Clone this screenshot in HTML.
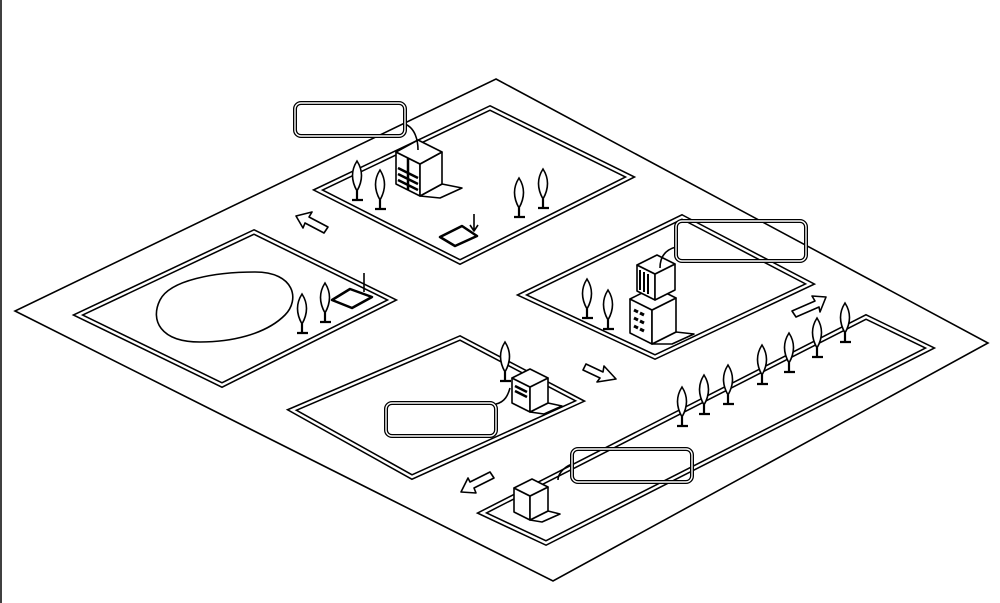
<!DOCTYPE html>
<html><head><meta charset="utf-8"><style>html,body{margin:0;padding:0;background:#fff}svg{display:block}</style></head>
<body>
<svg width="1000" height="603" viewBox="0 0 1000 603" xmlns="http://www.w3.org/2000/svg">
<defs>
<g id="tree"><path d="M0 -38 Q9 -24 0 -8 Q-9 -24 0 -38 Z" fill="#fff" stroke="#000" stroke-width="1.6"/><path d="M0 -8 V0 M-5 1 H6" stroke="#000" stroke-width="2.2" fill="none"/></g>
</defs>
<rect width="1000" height="603" fill="#fff"/>
<line x1="1" y1="0" x2="1" y2="603" stroke="#000" stroke-width="1.5"/>
<polygon points="496,79 988,343 553,581 15,311" fill="#fff" stroke="#000" stroke-width="1.6"/>
<g fill="none" stroke-linejoin="miter">
<g stroke="#000" stroke-width="5.5">
<polygon points="490,108 630,177 460,262 318,190"/>
<polygon points="254,232 392,300 222,385 78,315"/>
<polygon points="682,217 810,284 655,357 522,295"/>
<polygon points="460,338 580,401 412,477 292,410"/>
<polygon points="866,317 930,348 546,543 482,513"/>
</g>
<g stroke="#fff" stroke-width="2.4">
<polygon points="490,108 630,177 460,262 318,190"/>
<polygon points="254,232 392,300 222,385 78,315"/>
<polygon points="682,217 810,284 655,357 522,295"/>
<polygon points="460,338 580,401 412,477 292,410"/>
<polygon points="866,317 930,348 546,543 482,513"/>
</g>
</g>
<path d="M160 300 C170 280 215 272 255 272 C295 272 300 300 285 315 C265 335 230 342 200 342 C160 342 150 320 160 300 Z" fill="none" stroke="#000" stroke-width="1.6"/>
<g stroke="#000" stroke-width="1.6" fill="#fff" stroke-linejoin="round">
<polygon points="420,196 442,184 462,188 440,198"/>
<polygon points="420,196 396,184 396,152 420,164"/>
<polygon points="420,196 442,184 442,152 420,164"/>
<polygon points="420,164 396,152 418,140 442,152"/>
<path d="M398 168 L418 178 M398 174 L418 184 M398 180 L418 190 M408 158 V190" fill="none" stroke-width="2.5"/>
<polygon points="652,344 676,332 694,334 672,344"/>
<polygon points="652,344 630,333 630,299 652,310"/>
<polygon points="652,344 676,332 676,298 652,310"/>
<polygon points="652,310 630,299 654,287 676,298"/>
<polygon points="655,300 637,291 637,265 655,274"/>
<polygon points="655,300 675,290 675,264 655,274"/>
<polygon points="655,274 637,265 657,255 675,264"/>
<path d="M640 270 V290 M644 272 V292 M648 274 V294" fill="none" stroke-width="2"/>
<path d="M634 310 l4 2 M640 313 l4 2 M634 318 l4 2 M640 321 l4 2 M634 326 l4 2 M640 329 l4 2" fill="none" stroke-width="3"/>
<polygon points="530,412 548,403 562,406 544,414"/>
<polygon points="530,412 512,403 512,378 530,387"/>
<polygon points="530,412 548,403 548,378 530,387"/>
<polygon points="530,387 512,378 530,369 548,378"/>
<path d="M515 386 l12 6 M515 391 l12 6" fill="none" stroke-width="2.5"/>
<polygon points="530,520 548,511 560,514 542,522"/>
<polygon points="530,520 514,512 514,488 530,496"/>
<polygon points="530,520 548,511 548,487 530,496"/>
<polygon points="530,496 514,488 532,479 548,487"/>
<polygon points="440,237 462,226 477,236 455,246" stroke-width="2.5"/>
<path d="M474 214 V230 M470 225 L474 231 L478 225" fill="none"/>
<polygon points="332,300 350,289 372,297 352,308" stroke-width="2.5"/>
<path d="M364 273 V292" fill="none"/>
<polygon points="296,216 312,212 309,217 328,227 324,233 305,223 303,228"/>
<polygon points="826,297 812,296 815,301 792,311 796,317 819,307 820,312"/>
<polygon points="616,379 604,366 603,372 586,364 583,370 600,378 597,382"/>
<polygon points="461,492 476,493 474,488 494,478 490,472 470,482 468,478"/>
</g>
<g>
<use href="#tree" x="357" y="199"/><use href="#tree" x="380" y="208"/>
<use href="#tree" x="519" y="216"/><use href="#tree" x="543" y="207"/>
<use href="#tree" x="302" y="332"/><use href="#tree" x="325" y="321"/>
<use href="#tree" x="587" y="317"/><use href="#tree" x="608" y="328"/>
<use href="#tree" x="505" y="380"/>
<use href="#tree" x="682" y="425"/><use href="#tree" x="704" y="413"/><use href="#tree" x="728" y="403"/>
<use href="#tree" x="762" y="383"/><use href="#tree" x="789" y="371"/><use href="#tree" x="817" y="356"/><use href="#tree" x="845" y="341"/>
</g>
<g fill="none" stroke="#000" stroke-width="1.6">
<path d="M405 124 C415 128 418 140 418 150"/>
<path d="M676 247 C664 250 660 258 660 268"/>
<path d="M496 404 C505 402 508 395 510 388"/>
<path d="M572 464 C562 468 558 475 558 480"/>
</g>
<g fill="none" stroke="#000">
<rect x="295" y="103" width="110" height="33" rx="6" stroke-width="4"/>
<rect x="295" y="103" width="110" height="33" rx="6" stroke="#fff" stroke-width="1.4"/>
<rect x="676" y="221" width="130" height="40" rx="6" stroke-width="4"/>
<rect x="676" y="221" width="130" height="40" rx="6" stroke="#fff" stroke-width="1.4"/>
<rect x="386" y="403" width="110" height="33" rx="6" stroke-width="4"/>
<rect x="386" y="403" width="110" height="33" rx="6" stroke="#fff" stroke-width="1.4"/>
<rect x="572" y="449" width="120" height="33" rx="6" stroke-width="4"/>
<rect x="572" y="449" width="120" height="33" rx="6" stroke="#fff" stroke-width="1.4"/>
</g>
</svg>
</body></html>
